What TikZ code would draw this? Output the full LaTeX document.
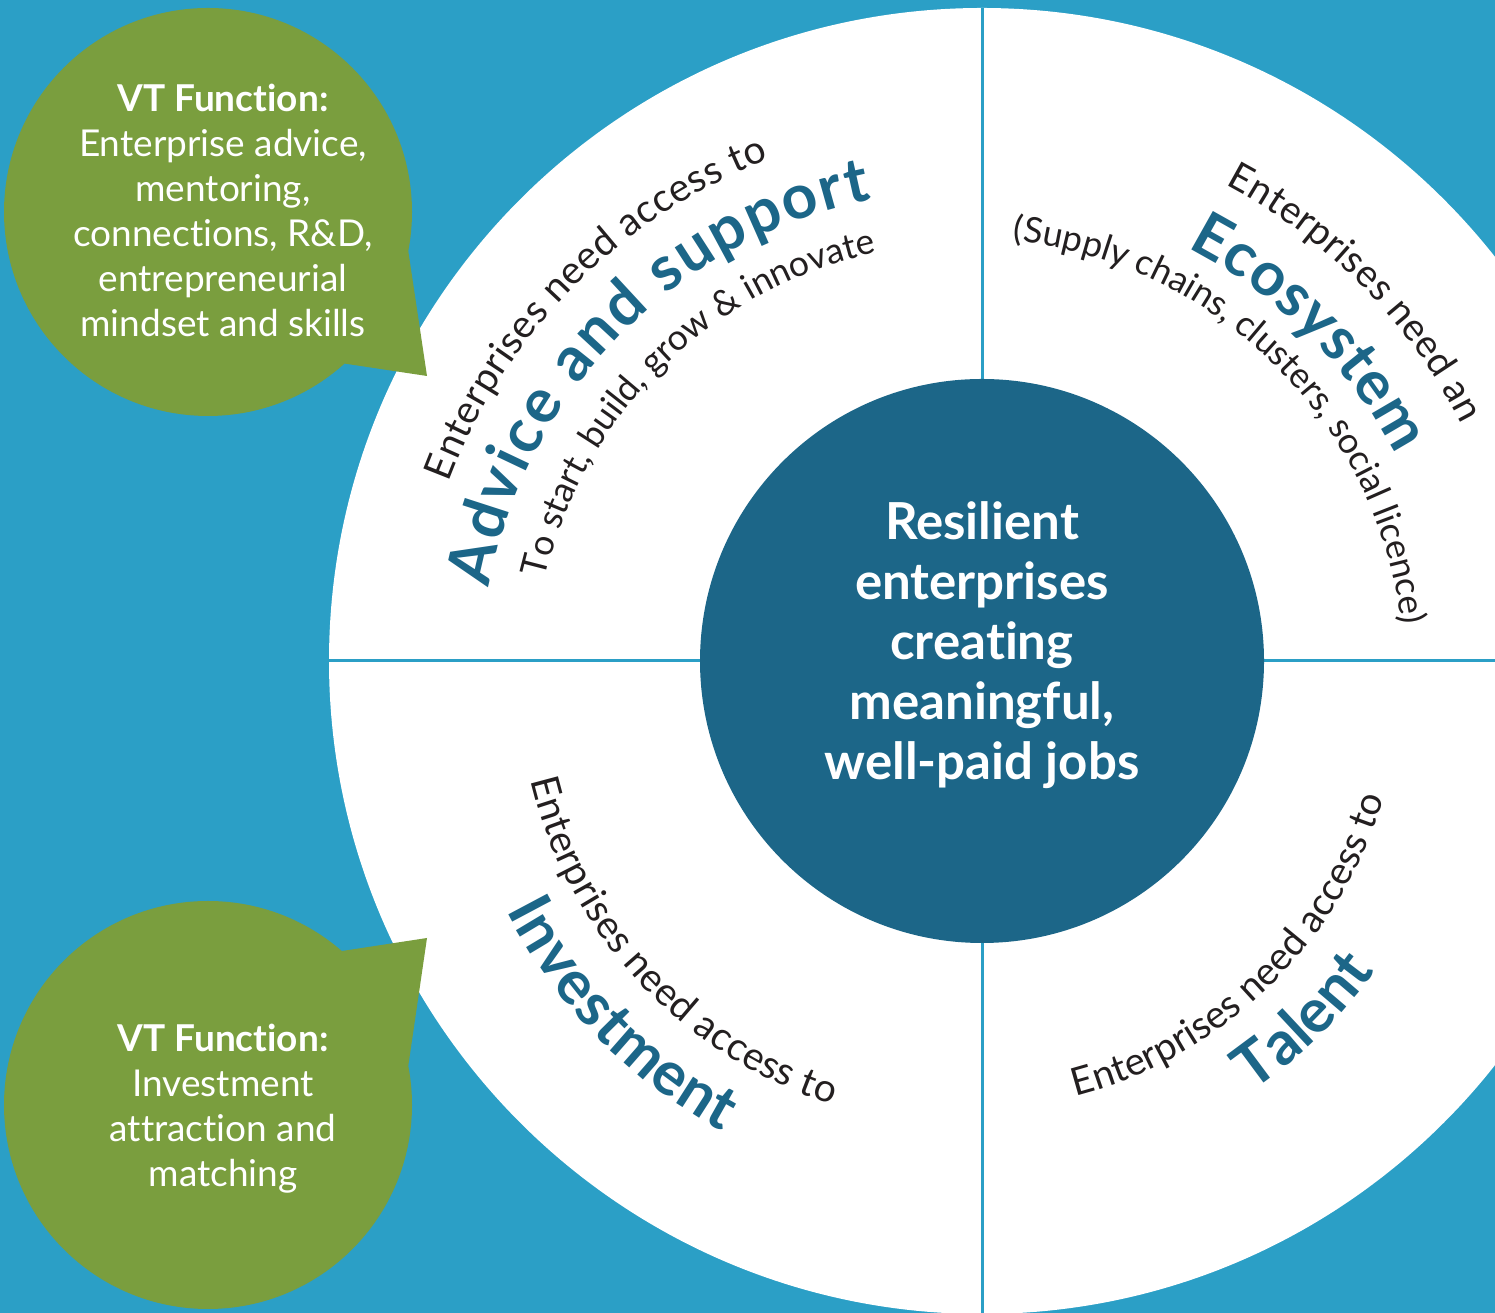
\documentclass[tikz,border=0pt]{standalone}
\usepackage{fontspec}
\setmainfont{Lato}[Ligatures=NoCommon]
\usetikzlibrary{decorations.text}
\definecolor{bgblue}{RGB}{43,159,198}
\definecolor{vtgreen}{RGB}{122,158,62}
\definecolor{core}{RGB}{28,102,136}
\definecolor{ttl}{RGB}{28,102,136}
\definecolor{ink}{RGB}{35,31,32}
\begin{document}
\begin{tikzpicture}[x=1pt,y=1pt,
  disc/.style={circle, inner sep=0pt, outer sep=0pt},
  bubbletext/.style={text=white, align=center, font=\fontsize{37}{45}\selectfont},
  divider/.style={draw=bgblue, line width=3pt}]
\useasboundingbox (0,0) rectangle (1495,1313);
\clip (0,0) rectangle (1495,1313);
\fill[bgblue] (0,0) rectangle (1495,1313);
% rings
\node[disc, fill=white, minimum size=1306pt] (W) at (982,652) {};
\draw[divider] (W.north) -- (W.south);
\draw[divider] (W.west) -- (W.east);
\node[disc, fill=core, minimum size=564pt] (D) at (982,652) {};
\node[text=white, align=center, font=\bfseries\fontsize{51}{60}\selectfont] (ctext) at (982,668)
  {Resilient\\enterprises\\creating\\meaningful,\\well-paid jobs};
% bubbles
\node[disc, fill=vtgreen, minimum size=408pt] (b1) at (208,1101) {};
\coordinate (tip1) at (427,937);
\fill[vtgreen] (b1.-11.4) -- (tip1) -- (b1.-48.3) -- cycle;
\node[bubbletext] (t1) at (223,1103) {\textbf{VT Function:}\\Enterprise advice,\\mentoring,\\connections, R\&D,\\entrepreneurial\\mindset and skills};
\node[disc, fill=vtgreen, minimum size=408pt] (b2) at (208,208) {};
\coordinate (tip2) at (427,375);
\fill[vtgreen] (b2.49.8) -- (tip2) -- (b2.11.9) -- cycle;
\node[bubbletext] (t2) at (223,204) {\textbf{VT Function:}\\Investment\\attraction and\\matching};
% arc texts, top-left
\begin{scope}[shift={(967,637)}]
\path[decorate, decoration={text along path, text align={fit to path},
  text={|\color{ink}\fontsize{39}{42}\selectfont|Enterprises need access to}}]
  (159.5:553) arc[start angle=159.5, end angle=111, radius=553];
\path[decorate, decoration={text along path, text align={fit to path},
  text={|\color{ttl}\bfseries\fontsize{62}{64}\selectfont|Advice and support}}]
  (169.5:486) arc[start angle=169.5, end angle=101.3, radius=486];
\path[decorate, decoration={text along path, text align={fit to path},
  text={|\color{ink}\fontsize{35.5}{40}\selectfont|To start, build, grow {\&} innovate}}]
  (167:433) arc[start angle=167, end angle=102.2, radius=433];
% top-right
\path[decorate, decoration={text along path, text align={fit to path},
  text={|\color{ink}\fontsize{38.5}{42}\selectfont|Enterprises need an}}]
  (62.2:555) arc[start angle=62.2, end angle=27, radius=555];
\path[decorate, decoration={text along path, text align={fit to path},
  text={|\color{ttl}\bfseries\fontsize{61}{64}\selectfont|Ecosystem}}]
  (62.8:482) arc[start angle=62.8, end angle=27.3, radius=482];
\path[decorate, decoration={text along path, text align={fit to path},
  text={|\color{ink}\fontsize{35.5}{40}\selectfont|(Supply chains, clusters, social licence)}}]
  (84:437.5) arc[start angle=84, end angle=7, radius=437.5];
% bottom-left
\path[decorate, decoration={text along path, text align={fit to path},
  text={|\color{ink}\fontsize{39}{42}\selectfont|Enterprises need access to}}]
  (193.5:449) arc[start angle=193.5, end angle=252.5, radius=449];
\path[decorate, decoration={text along path, text align={fit to path},
  text={|\color{ttl}\bfseries\fontsize{61}{64}\selectfont|Investment}}]
  (207:517) arc[start angle=207, end angle=241.8, radius=517];
% bottom-right
\path[decorate, decoration={text along path, text align={fit to path},
  text={|\color{ink}\fontsize{38.5}{42}\selectfont|Enterprises need access to}}]
  (284.5:434) arc[start angle=284.5, end angle=343, radius=434];
\path[decorate, decoration={text along path, text align=center,
  text={|\color{ttl}\bfseries\fontsize{61}{64}\selectfont|Talent}}]
  (290:504) arc[start angle=290, end angle=338.6, radius=504];
\end{scope}
\end{tikzpicture}
\end{document}
